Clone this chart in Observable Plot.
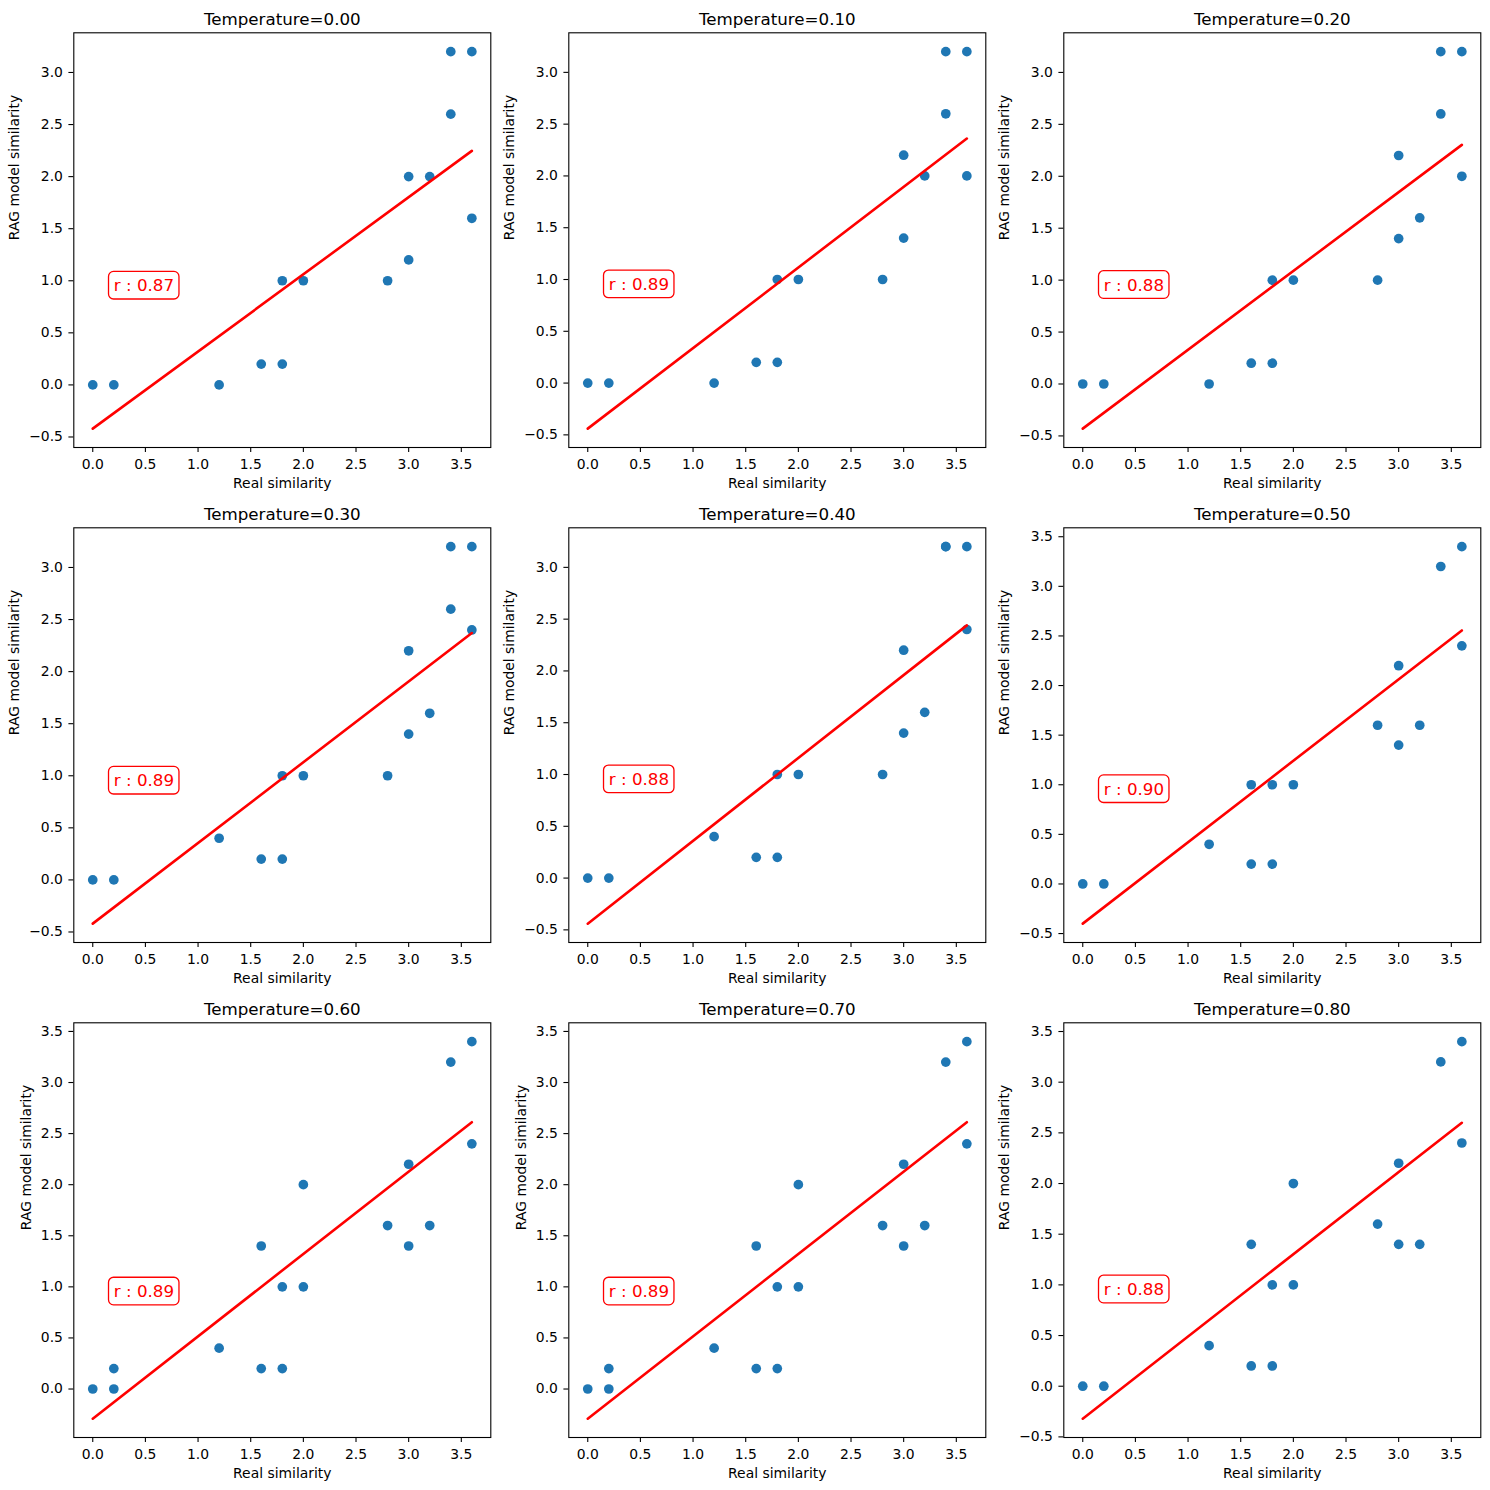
<!DOCTYPE html>
<html>
<head>
<meta charset="utf-8">
<script src="https://cdn.jsdelivr.net/npm/d3@7"></script>
<script src="https://cdn.jsdelivr.net/npm/@observablehq/plot@0.6"></script>
<style>
  html, body { margin: 0; padding: 0; background: #fff; }
  #fig { position: relative; width: 1490px; height: 1490px; background: #fff; font-family: "DejaVu Sans", sans-serif; }
  .panel { position: absolute; width: 495px; height: 495px; }
  .panel svg { display: block; overflow: visible; }
</style>
</head>
<body>
<div id="fig"></div>
<script>
// ---------------- data ----------------
const temperatures = [0.0, 0.1, 0.2, 0.3, 0.4, 0.5, 0.6, 0.7, 0.8];

const realSimilarity = [
  [0, 0.2, 1.2, 1.6, 1.8, 1.8, 2.0, 2.8, 3.0, 3.0, 3.2, 3.4, 3.4, 3.6, 3.6],
  [0, 0.2, 1.2, 1.6, 1.8, 1.8, 2.0, 2.8, 3.0, 3.0, 3.2, 3.4, 3.4, 3.6, 3.6],
  [0, 0.2, 1.2, 1.6, 1.8, 1.8, 2.0, 2.8, 3.0, 3.0, 3.2, 3.4, 3.4, 3.6, 3.6],
  [0, 0.2, 1.2, 1.6, 1.8, 1.8, 2.0, 2.8, 3.0, 3.0, 3.2, 3.4, 3.4, 3.6, 3.6],
  [0, 0.2, 1.2, 1.6, 1.8, 1.8, 2.0, 2.8, 3.0, 3.0, 3.2, 3.4, 3.4, 3.6, 3.6],
  [0, 0.2, 1.2, 1.6, 1.6, 1.8, 1.8, 2.0, 2.8, 3.0, 3.0, 3.2, 3.4, 3.6, 3.6],
  [0, 0.2, 0.2, 1.2, 1.6, 1.6, 1.8, 1.8, 2.0, 2.0, 2.8, 3.0, 3.0, 3.2, 3.4, 3.6, 3.6],
  [0, 0.2, 0.2, 1.2, 1.6, 1.6, 1.8, 1.8, 2.0, 2.0, 2.8, 3.0, 3.0, 3.2, 3.4, 3.6, 3.6],
  [0, 0.2, 1.2, 1.6, 1.6, 1.8, 1.8, 2.0, 2.0, 2.8, 3.0, 3.0, 3.2, 3.4, 3.6, 3.6]
];

const ragSimilarity = [
  [0, 0, 0, 0.2, 0.2, 1.0, 1.0, 1.0, 1.2, 2.0, 2.0, 2.6, 3.2, 1.6, 3.2],
  [0, 0, 0, 0.2, 0.2, 1.0, 1.0, 1.0, 1.4, 2.2, 2.0, 2.6, 3.2, 2.0, 3.2],
  [0, 0, 0, 0.2, 0.2, 1.0, 1.0, 1.0, 1.4, 2.2, 1.6, 2.6, 3.2, 2.0, 3.2],
  [0, 0, 0.4, 0.2, 0.2, 1.0, 1.0, 1.0, 1.4, 2.2, 1.6, 2.6, 3.2, 2.4, 3.2],
  [0, 0, 0.4, 0.2, 0.2, 1.0, 1.0, 1.0, 1.4, 2.2, 1.6, 3.2, 3.2, 2.4, 3.2],
  [0, 0, 0.4, 0.2, 1.0, 0.2, 1.0, 1.0, 1.6, 1.4, 2.2, 1.6, 3.2, 2.4, 3.4],
  [0, 0, 0.2, 0.4, 0.2, 1.4, 0.2, 1.0, 1.0, 2.0, 1.6, 1.4, 2.2, 1.6, 3.2, 2.4, 3.4],
  [0, 0, 0.2, 0.4, 0.2, 1.4, 0.2, 1.0, 1.0, 2.0, 1.6, 1.4, 2.2, 1.6, 3.2, 2.4, 3.4],
  [0, 0, 0.4, 0.2, 1.4, 0.2, 1.0, 1.0, 2.0, 1.6, 1.4, 2.2, 1.4, 3.2, 2.4, 3.4]
];

// Fitted regression line per panel: y = intercept + slope * x
const fitIntercept = [-0.42, -0.44, -0.43, -0.42, -0.44, -0.40, -0.29, -0.29, -0.32];
const fitSlope     = [0.741, 0.778, 0.759, 0.775, 0.800, 0.821, 0.806, 0.806, 0.811];

// Pearson r annotations
const rValues = [0.87, 0.89, 0.88, 0.89, 0.88, 0.90, 0.89, 0.89, 0.88];
const rLabelX = 0.2;
const rLabelY = 0.9;

const xTickValues = [0, 0.5, 1.0, 1.5, 2.0, 2.5, 3.0, 3.5];
const yTickStep = 0.5;
const xAxisLabel = "Real similarity";
const yAxisLabel = "RAG model similarity";

// ---------------- drawing ----------------
const fig = document.getElementById("fig");
const fmt1 = d3.format(".1f");
const fmt2 = d3.format(".2f");
const padded = ([a, b]) => { const m = (b - a) * 0.05; return [a - m, b + m]; };

temperatures.forEach((t, i) => {
  const col = i % 3, row = Math.floor(i / 3);
  const xs = realSimilarity[i], ys = ragSimilarity[i];
  const pts = xs.map((x, j) => ({x, y: ys[j]}));
  const xExt = d3.extent(xs);
  const fit = xExt.map(x => ({x, y: fitIntercept[i] + fitSlope[i] * x}));
  const xDom = padded(xExt);
  const yDom = padded(d3.extent(ys.concat(fit.map(d => d.y))));
  const yStart = Math.ceil(yDom[0] / yTickStep) * yTickStep + 0;
  const yTicks = d3.range(0, Math.floor((yDom[1] - yStart) / yTickStep + 1e-9) + 1).map(k => +(yStart + k * yTickStep).toFixed(2) + 0);
  const wideTicks = yTicks[0] < 0;

  const plot = Plot.plot({
    width: 495,
    height: 495,
    marginLeft: 73.3,
    marginRight: 4.7,
    marginTop: 32.3,
    marginBottom: 48,
    style: {fontFamily: '"DejaVu Sans", sans-serif', fontSize: "13.9px", color: "black", background: "transparent", overflow: "visible"},
    x: {domain: xDom, label: null},
    y: {domain: yDom, label: null},
    marks: [
      Plot.dot(pts, {x: "x", y: "y", r: 4.85, fill: "#1f77b4", stroke: "none"}),
      Plot.line(fit, {x: "x", y: "y", stroke: "red", strokeWidth: 2.6}),
      Plot.frame({stroke: "black", strokeWidth: 1.1}),
      Plot.axisX({ticks: xTickValues, tickFormat: fmt1, tickSize: 4.9, tickPadding: 6.3, strokeWidth: 1.1, fontSize: 13.9, fill: "black", label: null}),
      Plot.axisY({ticks: yTicks, tickFormat: fmt1, tickSize: 4.9, tickPadding: 6, strokeWidth: 1.1, fontSize: 13.9, fill: "black", label: null}),
      Plot.text([`Temperature=${fmt2(t)}`], {frameAnchor: "top", lineAnchor: "bottom", dy: -8.3, fontSize: 16.7, fill: "black", text: d => d}),
      Plot.text([xAxisLabel], {frameAnchor: "bottom", lineAnchor: "bottom", dy: 40.4, fontSize: 13.9, fill: "black", text: d => d}),
      Plot.text([yAxisLabel], {frameAnchor: "left", rotate: -90, lineAnchor: "middle", dx: wideTicks ? -58.8 : -47.1, fontSize: 13.9, fill: "black", text: d => d}),
      Plot.text([{x: rLabelX, y: rLabelY, label: `r : ${fmt2(rValues[i])}`}], {x: "x", y: "y", text: "label", textAnchor: "start", lineAnchor: "bottom", fontSize: 16.7, fill: "red"})
    ]
  });

  const holder = document.createElement("div");
  holder.className = "panel";
  holder.style.left = (col * 495) + "px";
  holder.style.top = (row * 495) + "px";
  holder.appendChild(plot);
  fig.appendChild(holder);

  // rounded red box behind the r label (matplotlib bbox style)
  const svg = holder.querySelector("svg");
  const texts = Array.from(svg.querySelectorAll("text")).filter(el => el.textContent.startsWith("r :"));
  if (texts.length) {
    const txt = texts[0];
    const sr = svg.getBoundingClientRect();
    const tr = txt.getBoundingClientRect();
    const baseline = plot.scale("y").apply(rLabelY);
    const left = tr.left - sr.left;
    const w = tr.width;
    const rect = document.createElementNS("http://www.w3.org/2000/svg", "rect");
    rect.setAttribute("x", left - 5.3);
    rect.setAttribute("y", baseline - 19.3);
    rect.setAttribute("width", w + 10.2);
    rect.setAttribute("height", 27.6);
    rect.setAttribute("rx", 5);
    rect.setAttribute("ry", 5);
    rect.setAttribute("fill", "white");
    rect.setAttribute("stroke", "red");
    rect.setAttribute("stroke-width", 1.3);
    let grp = txt;
    while (grp.parentNode && grp.parentNode !== svg) grp = grp.parentNode;
    svg.insertBefore(rect, grp);
  }
});
</script>
</body>
</html>
